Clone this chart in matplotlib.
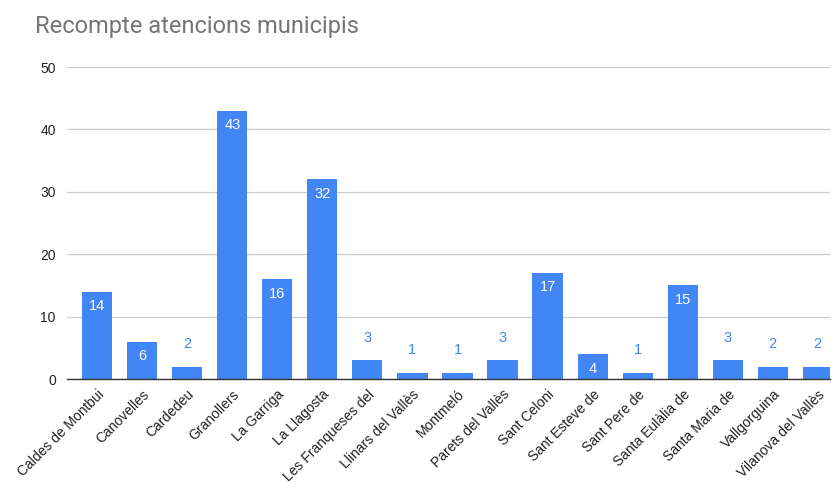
import matplotlib
matplotlib.use("Agg")
import matplotlib.pyplot as plt

categories = ["Caldes de Montbui", "Canovelles", "Cardedeu", "Granollers", "La Garriga",
              "La Llagosta", "Les Franqueses del", "Llinars del Vallès", "Montmeló",
              "Parets del Vallès", "Sant Celoni", "Sant Esteve de", "Sant Pere de",
              "Santa Eulàlia de", "Santa Maria de", "Vallgorguina", "Vilanova del Vallès"]
values = [14, 6, 2, 43, 16, 32, 3, 1, 1, 3, 17, 4, 1, 15, 3, 2, 2]
yticks = [0, 10, 20, 30, 40, 50]

plt.rcParams['font.family'] = ['Liberation Sans', 'DejaVu Sans']
fig = plt.figure(figsize=(8.37, 4.93), dpi=100)
ax = fig.add_axes([0.080, 0.2312, 0.9116, 0.6328])
blue = "#4285F4"
x = list(range(len(categories)))
ax.bar(x, values, width=0.67, color=blue, zorder=3)
ax.set_xlim(-0.67, 16.27)
ax.set_ylim(0, 50)
ax.set_yticks(yticks)
ax.set_yticklabels([str(t) for t in yticks], fontsize=10, color="#222222")
ax.grid(axis='y', color="#cccccc", linewidth=0.9, zorder=0)
for s in ['top', 'right', 'left']:
    ax.spines[s].set_visible(False)
ax.spines['bottom'].set_color("#333333")
ax.spines['bottom'].set_linewidth(1.0)
ax.spines['bottom'].set_zorder(4)
ax.tick_params(axis='both', length=0, pad=8)
ax.set_xticks(x)
ax.set_xticklabels(categories, rotation=45, ha='right', rotation_mode='anchor',
                   fontsize=10, color="#222222")
ax.tick_params(axis='x', pad=6)

for xi, v in zip(x, values):
    if v >= 4:
        ax.text(xi, v - 1.2, str(v), ha='center', va='top', color='white', fontsize=10.5, zorder=5)
    else:
        ax.text(xi, v + 2.5, str(v), ha='center', va='bottom', color=blue, fontsize=10.5, zorder=5)

fig.text(35/837, 1 - 27/493, "Recompte atencions municipis", fontsize=17, color="#757575",
         family=['Roboto', 'DejaVu Sans'], ha='left', va='center')
fig.savefig("out.png", dpi=100)
